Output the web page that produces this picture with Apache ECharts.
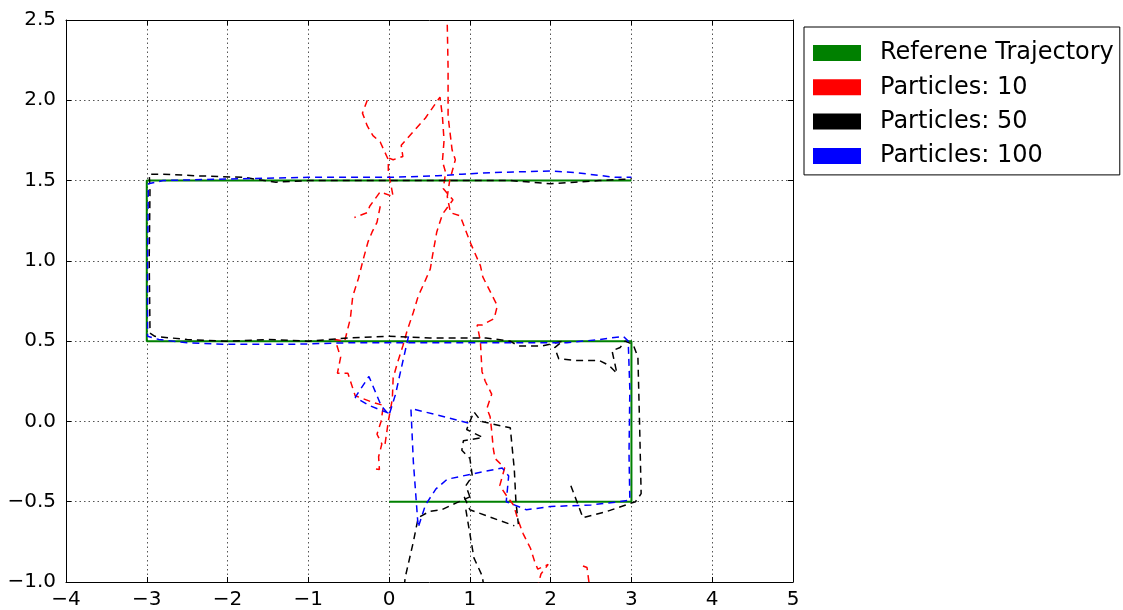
<!DOCTYPE html>
<html>
<head>
<meta charset="utf-8">
<script src="https://cdn.jsdelivr.net/npm/echarts@6/dist/echarts.min.js"></script>
<style>
  html, body { margin: 0; padding: 0; background: #fff; }
  #chart { width: 1123px; height: 610px; }
</style>
</head>
<body>
<div id="chart"></div>
<script>
// ---- data (x, y) ----
const seriesNames = ['Referene Trajectory', 'Particles: 10', 'Particles: 50', 'Particles: 100'];
const xTickRange = [-4, 5, 1];
const yTickRange = [-1, 2.5, 0.5];

const reference = [[0,-0.5],[3,-0.5],[3,0.5],[-3,0.5],[-3,1.5],[3,1.5]];

// Particles: 10 (red), several strands
const red10_a = [[0.72,2.47],[0.73,2.2],[0.73,1.9],[0.78,1.69],[0.82,1.63],[0.75,1.5],[0.72,1.4],[0.76,1.3],[0.88,1.28],[0.94,1.2],[1.0,1.12],[1.13,0.97],[1.16,0.9],[1.34,0.72],[1.3,0.64],[1.15,0.6],[1.09,0.6],[1.13,0.5],[1.15,0.31],[1.19,0.25],[1.27,0.17],[1.21,0.08],[1.25,0.03],[1.27,-0.06],[1.29,-0.17],[1.31,-0.23],[1.43,-0.29],[1.37,-0.4],[1.45,-0.46],[1.54,-0.52],[1.6,-0.62],[1.66,-0.7],[1.75,-0.79],[1.8,-0.87],[1.84,-0.92],[1.97,-0.89],[1.88,-0.95],[1.8,-1.1]];
const red10_b = [[-0.05,-0.14],[-0.01,0.0],[0.04,0.14],[0.05,0.27],[0.1,0.36],[0.17,0.47],[0.22,0.56],[0.3,0.68],[0.36,0.78],[0.45,0.88],[0.51,0.95],[0.54,1.04],[0.59,1.18],[0.66,1.29],[0.79,1.38],[0.67,1.45],[0.7,1.55],[0.66,1.62],[0.68,1.75],[0.66,1.9],[0.63,2.02],[0.45,1.89],[0.29,1.8],[0.15,1.72],[0.17,1.65],[0.05,1.63],[0.0,1.64]];
const red10_c = [[-0.27,2.0],[-0.33,1.92],[-0.27,1.84],[-0.2,1.78],[-0.11,1.74],[-0.01,1.63],[-0.01,1.56],[0.05,1.4],[-0.11,1.43],[-0.24,1.34],[-0.27,1.3],[-0.43,1.27]];
const red10_d = [[-0.11,1.34],[-0.15,1.24],[-0.21,1.18],[-0.26,1.12],[-0.32,1.01],[-0.38,0.89],[-0.45,0.78],[-0.48,0.64],[-0.55,0.5],[-0.67,0.51],[-0.6,0.4],[-0.64,0.3],[-0.51,0.3],[-0.42,0.16],[-0.21,0.12],[-0.07,0.1],[-0.1,0.0],[-0.15,-0.08],[-0.09,-0.14],[-0.13,-0.22],[-0.12,-0.3],[-0.22,-0.29]];
const red10_e = [[2.4,-0.9],[2.45,-0.91],[2.5,-1.1]];

// Particles: 50 (black)
const black50_main = [[2.25,-0.4],[2.4,-0.6],[2.7,-0.56],[3.05,-0.5],[3.12,-0.45],[3.1,0.0],[3.08,0.4],[3.02,0.48],[2.92,0.5],[2.86,0.46],[2.76,0.44],[2.82,0.3],[2.72,0.35],[2.6,0.38],[2.3,0.38],[2.1,0.39],[2.05,0.46],[2.15,0.5],[1.9,0.47],[1.6,0.47],[1.5,0.5],[1.2,0.52],[0.9,0.52],[0.5,0.52],[0.0,0.53],[-0.5,0.52],[-1.0,0.5],[-1.5,0.51],[-2.0,0.5],[-2.5,0.51],[-2.9,0.53],[-2.96,0.55],[-2.97,1.0],[-2.96,1.45],[-2.97,1.54],[-2.8,1.54],[-2.4,1.53],[-1.8,1.52],[-1.4,1.49],[-1.0,1.5],[-0.5,1.5],[0.0,1.5],[0.5,1.5],[1.0,1.5],[1.5,1.5],[2.0,1.48],[2.3,1.49],[2.6,1.5],[3.0,1.51]];
const black50_b = [[0.17,-1.1],[0.2,-0.97],[0.3,-0.75],[0.36,-0.6],[0.5,-0.56],[0.65,-0.55],[0.82,-0.51],[1.0,-0.47]];
const black50_c = [[1.0,-0.47],[0.95,-0.4],[1.03,-0.34],[1.0,-0.23],[0.9,-0.18],[0.92,-0.12],[1.16,-0.1],[0.96,-0.05],[1.05,0.06],[1.14,0.0],[1.5,-0.04],[1.55,-0.3],[1.57,-0.5],[1.6,-0.64]];
const black50_d = [[0.93,-0.47],[1.0,-0.55],[1.55,-0.65]];
const black50_e = [[0.95,-0.55],[1.05,-0.85],[1.15,-0.96],[1.2,-1.1]];

// Particles: 100 (blue)
const blue100_main = [[0.98,-0.01],[0.6,0.04],[0.27,0.08],[0.3,-0.25],[0.36,-0.66],[0.45,-0.52],[0.58,-0.42],[0.72,-0.36],[1.0,-0.33],[1.4,-0.29],[1.48,-0.34],[1.45,-0.5],[1.7,-0.55],[2.0,-0.53],[2.5,-0.52],[2.85,-0.5],[2.98,-0.49],[2.97,-0.2],[2.98,0.2],[2.96,0.5],[2.9,0.53],[2.6,0.51],[2.2,0.49],[1.6,0.49],[1.0,0.49],[0.3,0.49],[-0.5,0.49],[-1.2,0.48],[-2.0,0.48],[-2.5,0.49],[-2.85,0.51],[-2.99,0.53],[-2.99,1.0],[-2.98,1.48],[-2.8,1.5],[-2.0,1.51],[-1.0,1.52],[0.0,1.52],[0.6,1.53],[0.9,1.54],[1.3,1.55],[2.0,1.56],[2.3,1.55],[2.8,1.52],[3.0,1.52]];
const blue100_b = [[0.24,0.53],[0.15,0.33],[0.08,0.17],[0.0,0.04],[-0.1,0.1],[-0.25,0.28],[-0.42,0.15],[-0.25,0.1],[-0.1,0.07],[0.0,0.05]];

const colors = { ref: '#008000', p10: '#ff0000', p50: '#000000', p100: '#0000ff' };

// ---- chart ----
const FONT = 'DejaVu Sans';
const minus = s => String(s).replace('-', '\u2212');
const dash = [7, 5];

function dashed(name, data, color) {
  return {
    name, type: 'line', data, symbol: 'none', showSymbol: false,
    xAxisIndex: 0, yAxisIndex: 0, animation: false, clip: true,
    color, itemStyle: { color },
    lineStyle: { color, width: 1.5, type: dash }
  };
}

const xBase = { type: 'value', min: xTickRange[0], max: xTickRange[1], interval: xTickRange[2] };
const yBase = { type: 'value', min: yTickRange[0], max: yTickRange[1], interval: yTickRange[2] };
const axisLine = { show: true, onZero: false, lineStyle: { color: '#000', width: 1 } };
const tick = { show: true, inside: true, length: 5, lineStyle: { color: '#000', width: 1 } };
const gridLine = { show: true, lineStyle: { color: '#555', width: 1, type: [1.5, 3] } };

const chart = echarts.init(document.getElementById('chart'), null, { renderer: 'canvas' });
chart.setOption({
  animation: false,
  backgroundColor: '#fff',
  grid: { left: 66, right: 330, top: 20, bottom: 26, containLabel: false },
  xAxis: [
    Object.assign({}, xBase, {
      position: 'bottom', axisLine, axisTick: tick, splitLine: gridLine,
      axisLabel: { color: '#000', fontFamily: FONT, fontSize: 20, margin: 8, formatter: v => minus(v) }
    }),
    Object.assign({}, xBase, {
      position: 'top', axisLine, axisTick: tick, splitLine: { show: false }, axisLabel: { show: false }
    })
  ],
  yAxis: [
    Object.assign({}, yBase, {
      position: 'left', axisLine, axisTick: tick, splitLine: gridLine,
      axisLabel: { color: '#000', fontFamily: FONT, fontSize: 20, margin: 10, formatter: v => minus(v.toFixed(1)) }
    }),
    Object.assign({}, yBase, {
      position: 'right', axisLine, axisTick: tick, splitLine: { show: false }, axisLabel: { show: false }
    })
  ],
  legend: {
    data: seriesNames,
    orient: 'vertical',
    left: 804, top: 27,
    icon: 'rect', itemWidth: 48, itemHeight: 16, itemGap: 10.3,
    padding: [14, 6, 7, 9],
    backgroundColor: '#fff', borderColor: '#000', borderWidth: 1, borderRadius: 0,
    itemStyle: { borderWidth: 0 },
    lineStyle: { width: 0 },
    textStyle: { color: '#000', fontFamily: FONT, fontSize: 24, lineHeight: 24, padding: [0, 0, 0, 14] },
    selectedMode: false
  },
  series: [
    { name: seriesNames[0], type: 'line', data: reference, symbol: 'none', showSymbol: false, animation: false,
      color: colors.ref, itemStyle: { color: colors.ref }, lineStyle: { color: colors.ref, width: 2, type: 'solid' } },
    dashed(seriesNames[1], red10_a, colors.p10),
    dashed(seriesNames[1], red10_b, colors.p10),
    dashed(seriesNames[1], red10_c, colors.p10),
    dashed(seriesNames[1], red10_d, colors.p10),
    dashed(seriesNames[1], red10_e, colors.p10),
    dashed(seriesNames[2], black50_main, colors.p50),
    dashed(seriesNames[2], black50_b, colors.p50),
    dashed(seriesNames[2], black50_c, colors.p50),
    dashed(seriesNames[2], black50_d, colors.p50),
    dashed(seriesNames[2], black50_e, colors.p50),
    dashed(seriesNames[3], blue100_main, colors.p100),
    dashed(seriesNames[3], blue100_b, colors.p100)
  ]
});
</script>
</body>
</html>
